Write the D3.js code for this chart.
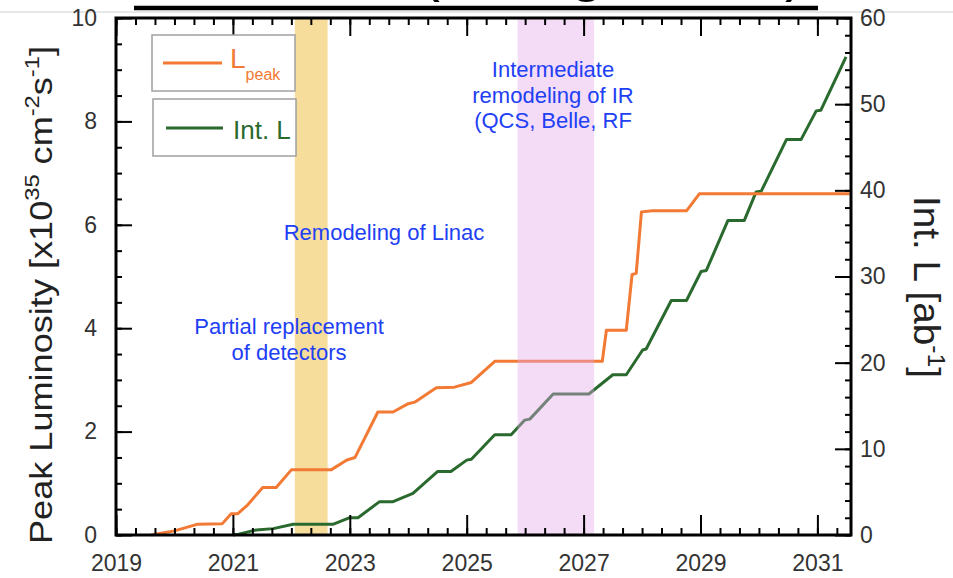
<!DOCTYPE html>
<html>
<head>
<meta charset="utf-8">
<script src="https://cdn.jsdelivr.net/npm/d3@7"></script>
<style>
  body { margin: 0; background: #fff; }
  svg { display: block; font-family: "Liberation Sans", Arial, Helvetica, sans-serif; }
</style>
</head>
<body>
<svg id="chart" width="953" height="578"></svg>
<script>
// ---- data ----
const xTickYears = [2019, 2021, 2023, 2025, 2027, 2029, 2031];
const leftTicks = [0, 2, 4, 6, 8, 10];
const rightTicks = [0, 10, 20, 30, 40, 50, 60];

// peak luminosity, x10^35 cm^-2 s^-1 (left axis)
const lpeakYear  = [2019.6, 2020.0, 2020.4, 2020.82, 2020.97, 2021.08, 2021.25, 2021.51, 2021.74, 2022.0, 2022.68, 2022.95, 2023.09, 2023.48, 2023.74, 2024.0, 2024.11, 2024.48, 2024.79, 2025.08, 2025.48, 2027.32, 2027.39, 2027.73, 2027.83, 2027.9, 2027.99, 2028.18, 2028.76, 2028.98, 2031.55];
const lpeakValue = [0,      0.08,   0.21,   0.22,    0.41,    0.41,    0.58,    0.92,    0.92,    1.26,   1.26,    1.45,    1.5,     2.38,    2.38,    2.54,   2.57,    2.85,    2.86,    2.95,    3.36,    3.36,    3.96,    3.96,    5.04,    5.06,   6.25,    6.27,    6.27,    6.6,     6.6];

// integrated luminosity, ab^-1 (right axis)
const intLYear  = [2021.0, 2021.1, 2021.4, 2021.69, 2022.03, 2022.71, 2023.0, 2023.14, 2023.51, 2023.74, 2024.08, 2024.5, 2024.73, 2025.0, 2025.08, 2025.48, 2025.76, 2025.99, 2026.08, 2026.48, 2027.09, 2027.5, 2027.73, 2028.01, 2028.07, 2028.5, 2028.76, 2029.01, 2029.1, 2029.47, 2029.75, 2029.95, 2030.04, 2030.47, 2030.72, 2030.98, 2031.06, 2031.49];
const intLValue = [0,      0.1,    0.58,   0.74,    1.24,    1.24,    2.01,   2.01,    3.87,    3.87,    4.84,    7.36,   7.36,    8.69,   8.8,     11.63,   11.63,   13.33,   13.45,   16.36,   16.36,   18.6,   18.6,    21.47,   21.59,   27.21,  27.21,   30.58,   30.7,   36.51,   36.51,   39.8,    39.91,   45.89,   45.89,   49.22,   49.3,    55.5];

// shutdown periods (years)
const bandStart = [2022.06, 2025.87];
const bandEnd   = [2022.62, 2027.18];

const noteLinac = ["Remodeling of Linac"];
const noteDetectors = ["Partial replacement", "of detectors"];
const noteIR = ["Intermediate", "remodeling of IR", "(QCS, Belle, RF"];

// ---- layout ----
const svgDimensions = { width: 953, height: 578 };
const margin = { left: 116, right: 102, top: 18, bottom: 43 };
const chartDimensions = {
  width: svgDimensions.width - margin.left - margin.right,
  height: svgDimensions.height - margin.top - margin.bottom
};

const orange = "#f27a34";
const green = "#2b6a2e";
const blue = "#2140f5";

const svg = d3.select("#chart");

// faint crop artefacts and the cut-off title at the very top
svg.append("line")
  .attr("x1", 0).attr("x2", svgDimensions.width)
  .attr("y1", 12).attr("y2", 12)
  .attr("stroke", "#d0d0d0").attr("stroke-width", 1);
svg.append("text")
  .attr("x", 420).attr("y", -10)
  .attr("font-size", 60)
  .attr("textLength", 385)
  .attr("fill", "#000")
  .text("(Long term)");
svg.append("line")
  .attr("x1", 134).attr("x2", 818)
  .attr("y1", 8).attr("y2", 8)
  .attr("stroke", "#000").attr("stroke-width", 4.5);

const x = d3.scaleLinear().domain([2019, 2031.575]).range([0, chartDimensions.width]);
const yLeft = d3.scaleLinear().domain([0, 10]).range([chartDimensions.height, 0]);
const yRight = d3.scaleLinear().domain([0, 60]).range([chartDimensions.height, 0]);

const g = svg.append("g").attr("transform", `translate(${margin.left}, ${margin.top})`);

// yellow band sits behind the curves
g.append("rect")
  .attr("x", x(bandStart[0]))
  .attr("width", x(bandEnd[0]) - x(bandStart[0]))
  .attr("y", 0)
  .attr("height", chartDimensions.height)
  .attr("fill", "#f6dd9c");

// curves
const lineL = d3.line().x((d, i) => x(lpeakYear[i])).y(d => yLeft(d));
const lineI = d3.line().x((d, i) => x(intLYear[i])).y(d => yRight(d));

g.append("path")
  .datum(intLValue)
  .attr("d", lineI)
  .attr("fill", "none")
  .attr("stroke", green)
  .attr("stroke-width", 3)
  .attr("stroke-linejoin", "round");

g.append("path")
  .datum(lpeakValue)
  .attr("d", lineL)
  .attr("fill", "none")
  .attr("stroke", orange)
  .attr("stroke-width", 3)
  .attr("stroke-linejoin", "round");

// annotations
function note(lines, cx, firstBaseline) {
  const t = svg.append("text")
    .attr("text-anchor", "middle")
    .attr("font-size", 22)
    .attr("fill", blue);
  lines.forEach((s, i) => {
    t.append("tspan").attr("x", cx).attr("y", firstBaseline + i * 25.5).text(s);
  });
}
note(noteIR, 553, 77);
note(noteLinac, 384, 240);
note(noteDetectors, 289, 334);

// pink band drawn over, tinting what is underneath
g.append("rect")
  .attr("x", x(bandStart[1]))
  .attr("width", x(bandEnd[1]) - x(bandStart[1]))
  .attr("y", 0)
  .attr("height", chartDimensions.height)
  .attr("fill", "rgb(228,168,236)")
  .attr("opacity", 0.4);

// ---- axes ----
const minorX = d3.range(0, 38).map(i => 2019 + i / 3);
const minorLeft = d3.range(0, 21).map(i => i / 2);
const minorRight = d3.range(0, 31).map(i => i * 2);

function styleAxis(sel) {
  sel.select(".domain").remove();
  sel.selectAll("line").attr("stroke", "#000").attr("stroke-width", 2);
  sel.selectAll("text").attr("fill", "#333").attr("font-size", 23)
    .attr("font-family", "'Liberation Sans', Arial, sans-serif");
}

g.append("g").attr("transform", `translate(0, ${chartDimensions.height})`)
  .call(d3.axisBottom(x).tickValues(minorX).tickSize(-7).tickFormat(""))
  .call(styleAxis);
g.append("g").attr("transform", `translate(0, ${chartDimensions.height})`)
  .call(d3.axisBottom(x).tickValues(xTickYears).tickSize(-20).tickPadding(20).tickFormat(d3.format("d")))
  .call(styleAxis);

g.append("g")
  .call(d3.axisTop(x).tickValues(minorX).tickSize(-7).tickFormat(""))
  .call(styleAxis);
g.append("g")
  .call(d3.axisTop(x).tickValues(xTickYears).tickSize(-18).tickFormat(""))
  .call(styleAxis);

g.append("g")
  .call(d3.axisLeft(yLeft).tickValues(minorLeft).tickSize(-6).tickFormat(""))
  .call(styleAxis);
g.append("g")
  .call(d3.axisLeft(yLeft).tickValues(leftTicks).tickSize(-16).tickPadding(19))
  .call(styleAxis);

g.append("g").attr("transform", `translate(${chartDimensions.width}, 0)`)
  .call(d3.axisRight(yRight).tickValues(minorRight).tickSize(-6).tickFormat(""))
  .call(styleAxis);
g.append("g").attr("transform", `translate(${chartDimensions.width}, 0)`)
  .call(d3.axisRight(yRight).tickValues(rightTicks).tickSize(-16).tickPadding(9))
  .call(styleAxis);

// frame
g.append("rect")
  .attr("width", chartDimensions.width)
  .attr("height", chartDimensions.height)
  .attr("fill", "none")
  .attr("stroke", "#000")
  .attr("stroke-width", 3);

// ---- axis titles ----
const leftTitle = svg.append("text")
  .attr("transform", `translate(52, 295) rotate(-90)`)
  .attr("text-anchor", "middle")
  .attr("font-size", 32)
  .attr("textLength", 498)
  .attr("lengthAdjust", "spacingAndGlyphs")
  .attr("fill", "#222");
leftTitle.append("tspan").text("Peak Luminosity [x10");
leftTitle.append("tspan").attr("dy", -13).attr("font-size", 21).text("35");
leftTitle.append("tspan").attr("dy", 13).text(" cm");
leftTitle.append("tspan").attr("dy", -13).attr("font-size", 21).text("-2");
leftTitle.append("tspan").attr("dy", 13).text("s");
leftTitle.append("tspan").attr("dy", -13).attr("font-size", 21).text("-1");
leftTitle.append("tspan").attr("dy", 13).text("]");

const rightTitle = svg.append("text")
  .attr("transform", `translate(914, 287) rotate(90)`)
  .attr("text-anchor", "middle")
  .attr("font-size", 36)
  .attr("textLength", 182)
  .attr("lengthAdjust", "spacingAndGlyphs")
  .attr("fill", "#222");
rightTitle.append("tspan").text("Int. L [ab");
rightTitle.append("tspan").attr("dy", -14).attr("font-size", 23).text("-1");
rightTitle.append("tspan").attr("dy", 14).text("]");

// ---- legend ----
const legend = svg.append("g");
legend.append("rect").attr("x", 152).attr("y", 35).attr("width", 143).attr("height", 56)
  .attr("fill", "#fff").attr("stroke", "#a0a0a0").attr("stroke-width", 1.5);
legend.append("rect").attr("x", 153).attr("y", 99).attr("width", 143).attr("height", 57)
  .attr("fill", "#fff").attr("stroke", "#a0a0a0").attr("stroke-width", 1.5);
legend.append("line").attr("x1", 163).attr("x2", 222).attr("y1", 63).attr("y2", 63)
  .attr("stroke", orange).attr("stroke-width", 3);
legend.append("line").attr("x1", 166).attr("x2", 223).attr("y1", 128).attr("y2", 128)
  .attr("stroke", green).attr("stroke-width", 3);
const lt = legend.append("text").attr("x", 230).attr("y", 68).attr("font-size", 28).attr("fill", orange);
lt.append("tspan").text("L");
lt.append("tspan").attr("dy", 12).attr("font-size", 16).text("peak");
legend.append("text").attr("x", 233).attr("y", 139).attr("font-size", 26).attr("fill", green).text("Int. L");
</script>
</body>
</html>
